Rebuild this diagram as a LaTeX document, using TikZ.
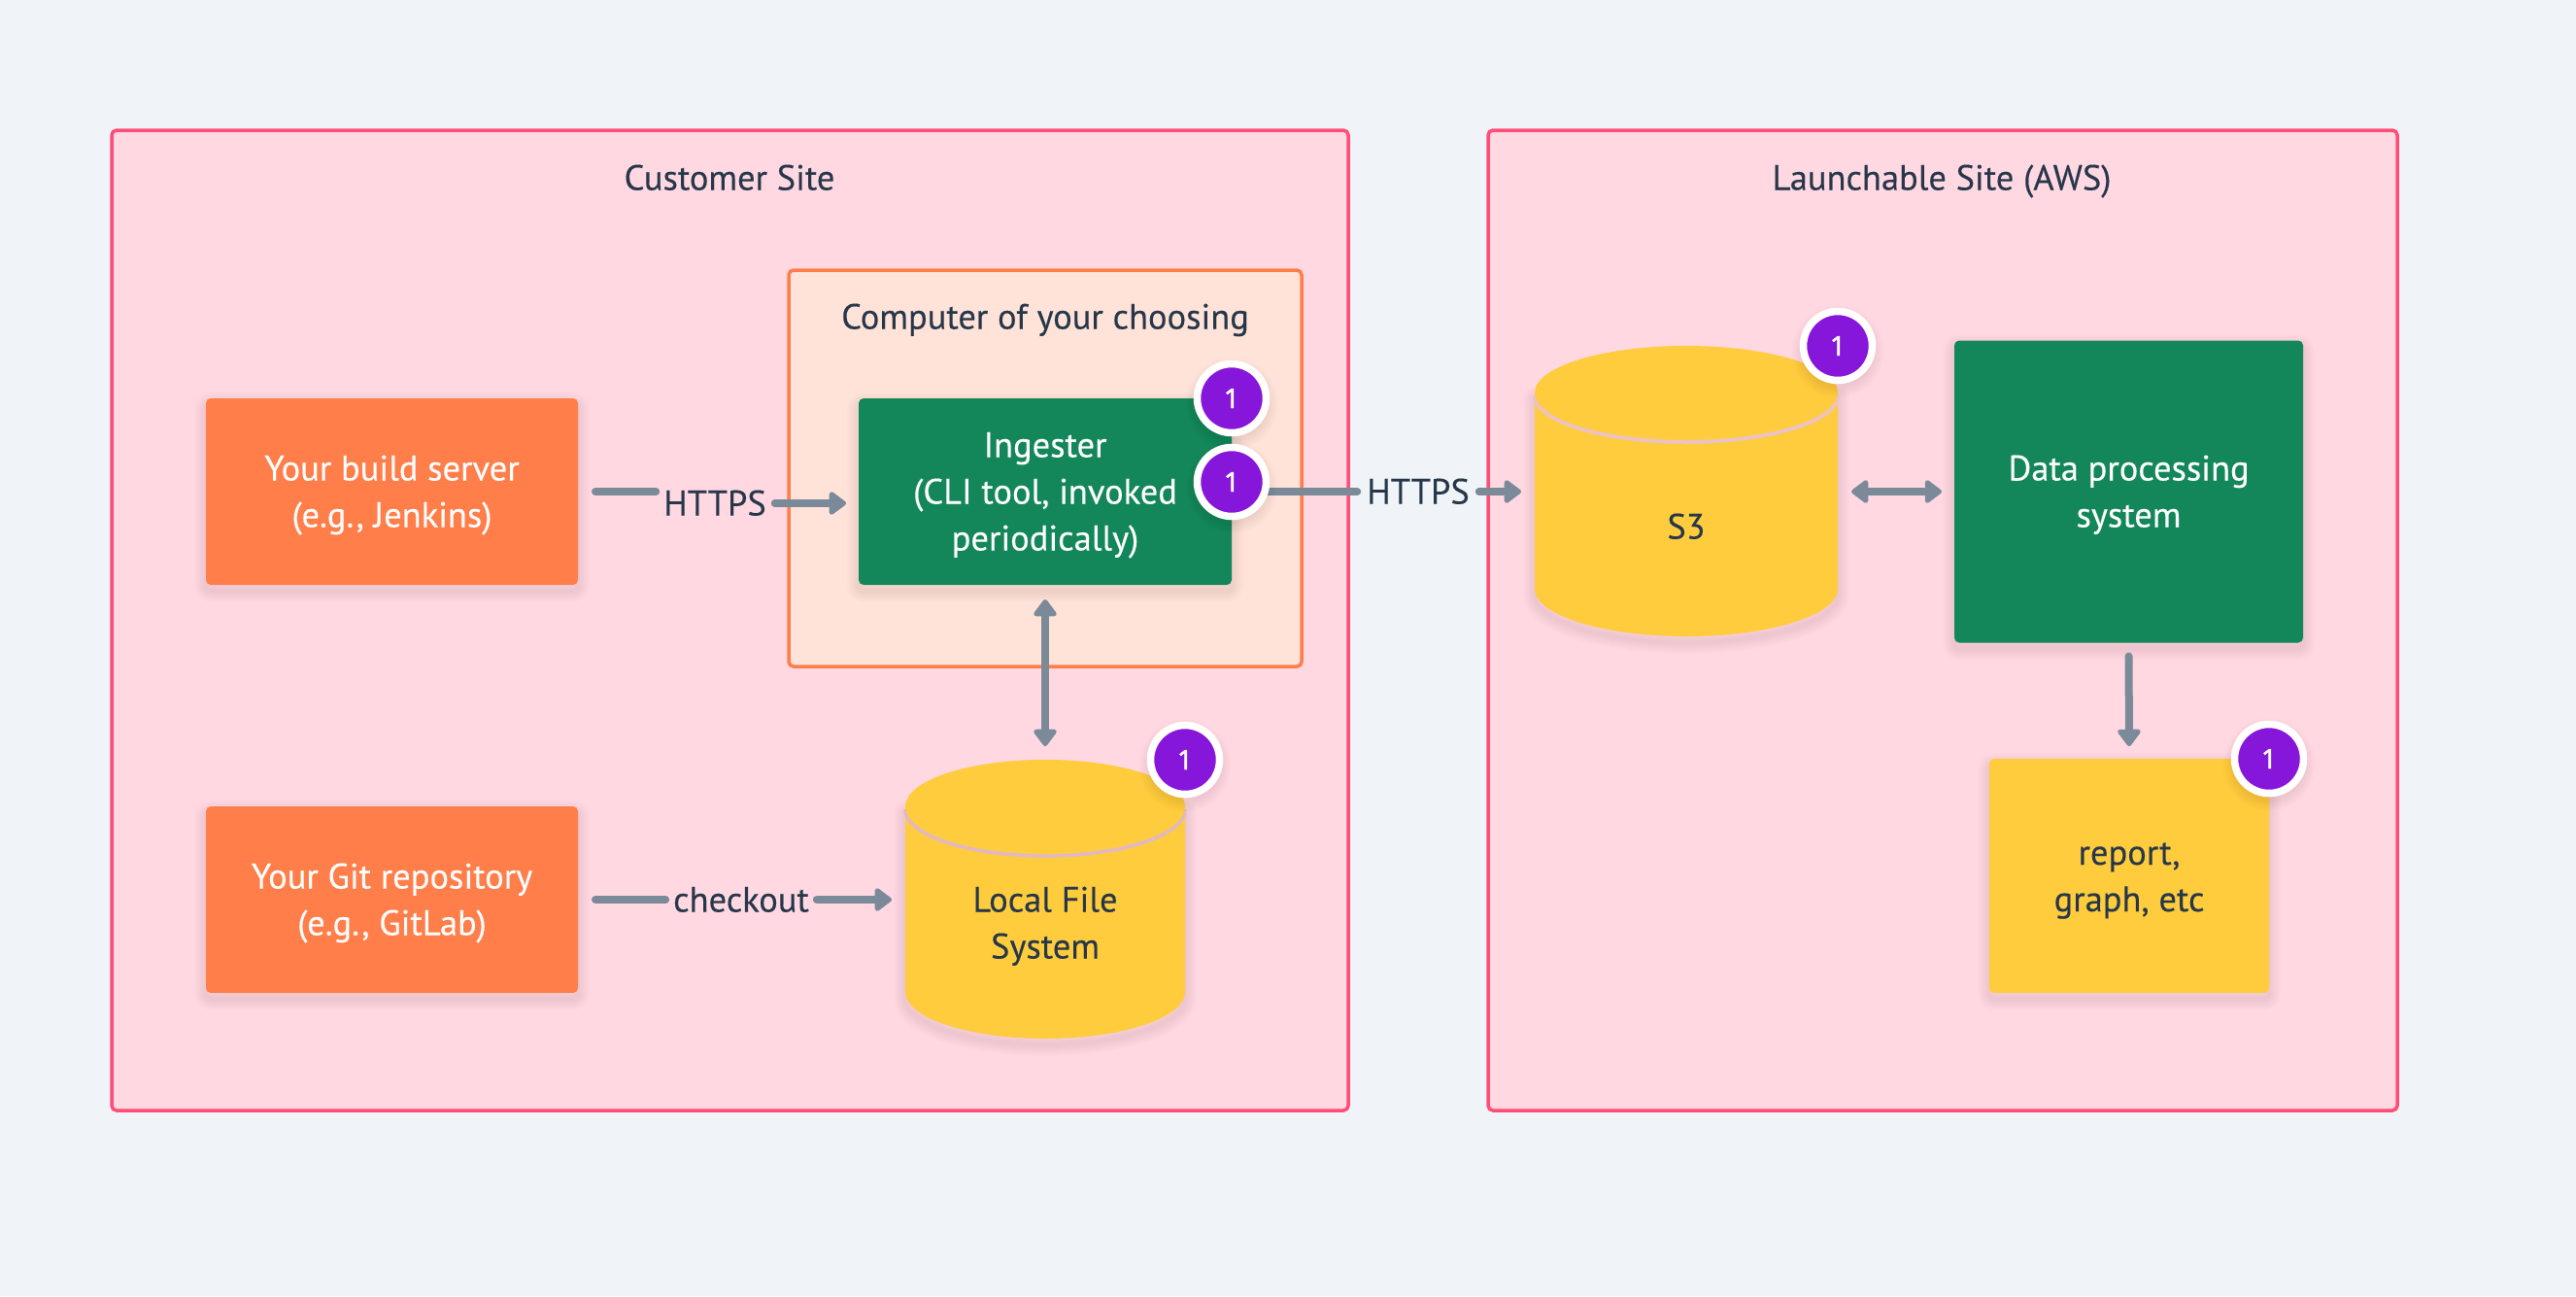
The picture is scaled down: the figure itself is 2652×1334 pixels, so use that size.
\documentclass[tikz,border=0pt]{standalone}
\usepackage{fontspec}
\setmainfont{PT Sans}[FakeBold=0.25]
\newfontfamily\badgefont{Noto Sans}[FakeBold=1.6]
\usetikzlibrary{arrows.meta}
\definecolor{bgc}{HTML}{F0F4F8}
\definecolor{pinkf}{HTML}{FFD8E2}
\definecolor{pinkb}{HTML}{FF4D78}
\definecolor{peachf}{HTML}{FFE3D8}
\definecolor{orangec}{HTML}{FF7E4A}
\definecolor{greenc}{HTML}{14875A}
\definecolor{yellowc}{HTML}{FFCC3D}
\definecolor{purplec}{HTML}{8616DA}
\definecolor{arrowc}{HTML}{7B8A99}
\definecolor{textc}{HTML}{27374A}
\definecolor{rimc}{HTML}{E2B8C2}
\newcommand{\ls}{\rule[-11.5pt]{0pt}{48pt}}
\tikzset{
  x=1pt,y=-1pt,
  every node/.style={inner sep=0pt,outer sep=0pt,text=textc,align=center,font=\fontsize{36.5}{48}\selectfont},
  shadowlayer/.style={preaction={draw=black,draw opacity=.012,line width=#1,line join=round,transform canvas={yshift=-6pt}}},
  softshadow/.style={shadowlayer=24pt,shadowlayer=20pt,shadowlayer=16pt,shadowlayer=12pt,shadowlayer=8pt,shadowlayer=4pt},
  site/.style={draw=pinkb,fill=pinkf,line width=3.5pt,rounded corners=5pt},
  computer/.style={draw=orangec,fill=peachf,line width=3.5pt,rounded corners=5pt},
  boxnode/.style={rounded corners=5pt,softshadow},
  orangebox/.style={boxnode,fill=orangec,text=white,minimum width=383pt,minimum height=192pt},
  greenbox/.style={boxnode,fill=greenc,text=white},
  yellowbox/.style={boxnode,fill=yellowc},
  cyl/.style={fill=yellowc,softshadow},
  rim/.style={draw=rimc,line width=3.5pt},
  badge/.style={circle,fill=purplec,draw=white,line width=7.5pt,minimum size=71pt,text=white,
    font=\badgefont\fontsize{28}{30}\selectfont,softshadow},
  conn/.style={draw=arrowc,line width=8pt,line cap=round},
  arrowend/.style={conn,-{Triangle[length=19pt,width=27pt,round]}},
  arrowboth/.style={conn,{Triangle[length=19pt,width=27pt,round]}-{Triangle[length=19pt,width=27pt,round]}},
}
\begin{document}
\begin{tikzpicture}
\useasboundingbox (0,0) rectangle (2652,1334);
\fill[bgc] (0,0) rectangle (2652,1334);
% sites
\draw[site] (115,134) rectangle (1388,1143);
\draw[site] (1532,134) rectangle (2468,1143);
\node (custtitle) at (751,183) {\ls Customer Site};
\node (launchtitle) at (1999,183) {\ls Launchable Site (AWS)};
% computer
\draw[computer] (812,278) rectangle (1340,686);
\node (comptitle) at (1076,326) {\ls Computer of your choosing};
% boxes
\node[orangebox] (build) at (403.5,506) {\ls Your build server\\\ls (e.g., Jenkins)};
\node[orangebox] (git) at (403.5,926) {\ls Your Git repository\\\ls (e.g., GitLab)};
\node[greenbox,minimum width=384pt,minimum height=192pt] (ingester) at (1076,506)
  {\ls Ingester\\\ls (CLI tool, invoked\\\ls periodically)};
\node[greenbox,minimum width=359pt,minimum height=311pt] (dataproc) at (2191.5,506)
  {\ls Data processing\\\ls system};
\node[yellowbox,minimum width=288pt,minimum height=241pt] (report) at (2192,901.5)
  {\ls report,\\\ls graph, etc};
% cylinders
\path[cyl] (932,830) arc[start angle=180,end angle=0,x radius=144,y radius=48] -- (1220,1021)
  arc[start angle=0,end angle=-180,x radius=144,y radius=-48] -- cycle;
\draw[rim] (932,833) arc[start angle=180,end angle=360,x radius=144,y radius=-48];
\fill[yellowc] (1076,830) ellipse[x radius=144,y radius=48];
\node (localfs) at (1076,950) {\ls Local File\\\ls System};
\path[cyl] (1580,404) arc[start angle=180,end angle=0,x radius=156,y radius=48] -- (1892,606)
  arc[start angle=0,end angle=-180,x radius=156,y radius=-49] -- cycle;
\draw[rim,draw=rimc!70!pinkf] (1580,407) arc[start angle=180,end angle=360,x radius=156,y radius=-48];
\fill[yellowc] (1736,404) ellipse[x radius=156,y radius=48];
\node (sthree) at (1736,542) {\ls S3};
\coordinate (localtop) at (1076,782);
\coordinate (sthreeleft) at (1580,506);
\coordinate (sthreeright) at (1892,506);
\coordinate (localleft) at (932,926);
% connector labels
\node (https1) at (736,518) {\ls HTTPS};
\node (checkout) at (763,926) {\ls checkout};
\node (https2) at (1460,506) {\ls HTTPS};
% connectors
\draw[conn] ([xshift=18pt]build.east) -- ([xshift=-8pt]build.east -| https1.west);
\draw[arrowend] ([xshift=9pt]https1.east) -- ([xshift=-13pt,yshift=-12pt]ingester.west);
\draw[conn] ([xshift=18pt]git.east) -- ([xshift=-8pt]git.east -| checkout.west);
\draw[arrowend] ([xshift=8pt]checkout.east) -- ([xshift=-14pt]localleft);
\draw[conn] (1290,506) -- ([xshift=-10pt]https2.west);
\draw[arrowend] ([xshift=10pt]https2.east) -- ([xshift=-14pt]sthreeleft);
\draw[arrowboth] ([yshift=-15pt]ingester.south) -- ([yshift=14pt]localtop);
\draw[arrowboth] ([xshift=14pt]sthreeright) -- ([xshift=-13pt]dataproc.west);
\draw[arrowend] ([yshift=-14pt]dataproc.south) -- ([yshift=13pt]report.north);
% badges
\node[badge] (b1) at (1268,410) {1};
\node[badge] (b2) at (1268,496) {1};
\node[badge] (b3) at (1220,782) {1};
\node[badge] (b4) at (1892,356) {1};
\node[badge] (b5) at (2336,781) {1};
\end{tikzpicture}
\end{document}
